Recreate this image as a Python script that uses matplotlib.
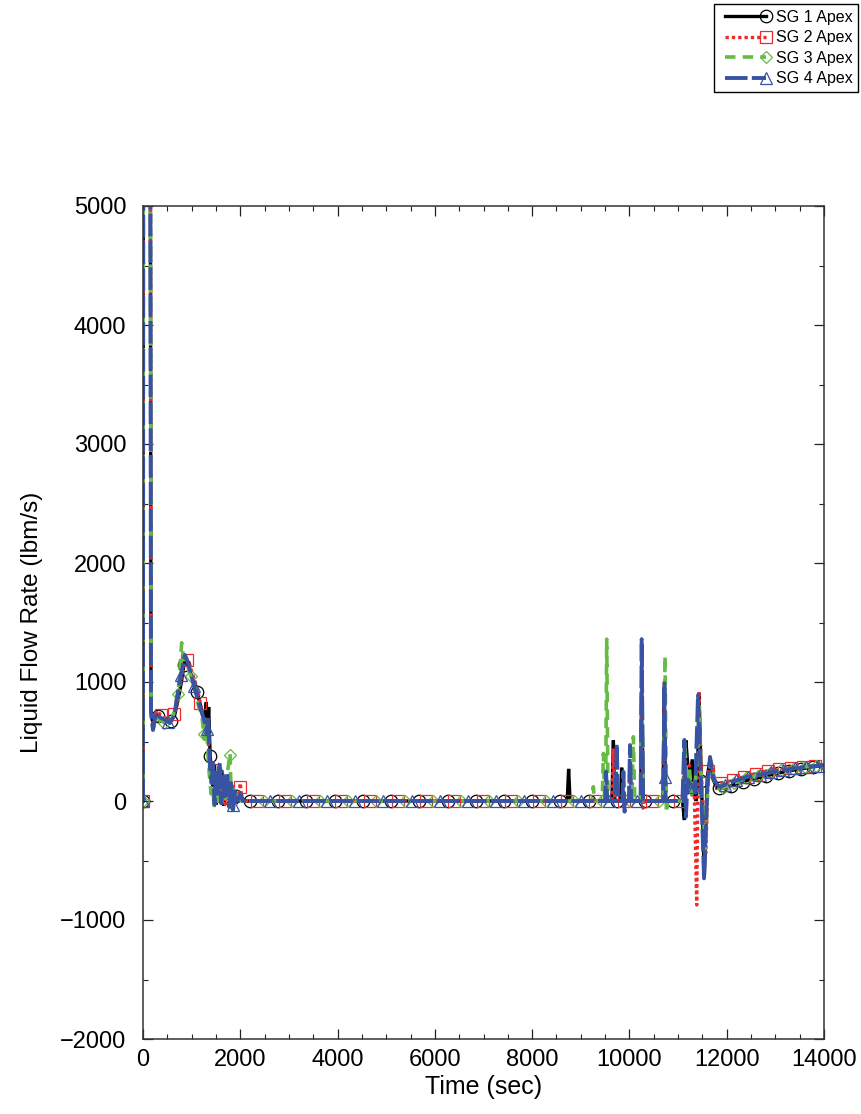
import numpy as np
import matplotlib
matplotlib.use("Agg")
import matplotlib.pyplot as plt
from matplotlib.lines import Line2D
from matplotlib.legend_handler import HandlerLine2D
from matplotlib.ticker import MultipleLocator

plt.rcParams['font.family'] = ['Liberation Sans', 'DejaVu Sans']

# (time s, liquid flow lbm/s)
sg1 = [(0, 0), (10, 9000), (140, 9000), (165, 760), (205, 640), (270, 730), (360, 690), (460, 670),
       (555, 665), (650, 720), (720, 850), (790, 1000), (860, 1200), (930, 1130), (1000, 1050),
       (1070, 980), (1140, 870), (1210, 760), (1270, 650), (1300, 830), (1330, 560), (1350, 790),
       (1380, 380), (1410, 260), (1440, 120), (1470, 300), (1500, -30), (1540, 180), (1580, 40),
       (1620, 260), (1660, -40), (1700, 140), (1740, 10), (1790, 200), (1840, -20), (1890, 90),
       (1950, 0), (2010, 30), (2100, 0),
       (8720, 0), (8750, 270), (8780, 0), (9640, 0), (9670, 510), (9700, 0), (9820, 0), (9840, 280),
       (9870, 0), (10230, 0), (10255, 1100), (10280, 0), (10690, 0), (10715, 950), (10740, 0),
       (11090, 0), (11130, -160), (11160, 510), (11200, 300), (11240, 120), (11290, 350), (11330, 80),
       (11370, 0), (11400, 200), (11430, 910), (11470, 300), (11540, -640), (11600, 200), (11660, 360),
       (11720, 180), (11800, 110), (11900, 110), (12100, 130), (12400, 170), (12700, 200), (13000, 230),
       (13300, 255), (13600, 275), (13900, 295), (14000, 300)]

sg2 = [(0, 0), (10, 9000), (140, 9000), (170, 740), (210, 650), (280, 760), (370, 720), (470, 690),
       (560, 680), (650, 740), (720, 870), (800, 1050), (870, 1220), (940, 1160), (1010, 1080),
       (1080, 990), (1150, 880), (1220, 740), (1260, 690), (1290, 600), (1320, 680), (1350, 420),
       (1380, 300), (1410, 180), (1440, 340), (1470, 100), (1500, 240), (1530, -20), (1570, 200),
       (1610, 60), (1650, 220), (1690, -30), (1730, 120), (1770, 20), (1810, 160), (1860, -10),
       (1910, 60), (1960, 20), (2000, 150), (2040, 0), (2120, 0),
       (9640, 0), (9670, 430), (9700, 0), (9980, 0), (10010, 300), (10040, 0), (10230, 0),
       (10255, 1200), (10280, -60), (10310, 0), (10690, 0), (10718, 1000), (10745, 0), (11090, 0),
       (11140, 450), (11180, 100), (11230, 300), (11280, 50), (11330, 150), (11383, -874),
       (11430, 919), (11480, 200), (11570, -437), (11620, 250), (11680, 330), (11760, 160),
       (11850, 150), (12100, 170), (12400, 210), (12700, 240), (13000, 260), (13300, 280),
       (13600, 290), (13900, 300), (14000, 300)]

sg3 = [(0, 0), (10, 9000), (140, 9000), (168, 720), (205, 600), (270, 700), (360, 680), (460, 650),
       (555, 650), (650, 760), (730, 950), (795, 1330), (850, 1150), (920, 1120), (1000, 1030),
       (1070, 950), (1140, 800), (1210, 720), (1260, 520), (1300, 680), (1340, 350), (1370, 200),
       (1400, 60), (1430, 260), (1460, -60), (1500, 150), (1540, 0), (1580, 300), (1620, -50),
       (1660, 180), (1700, 20), (1740, 250), (1789, 400), (1820, -60), (1860, 100), (1900, 0),
       (1950, 50), (2020, 0), (2100, 0),
       (9230, 0), (9258, 120), (9280, 0), (9440, 0), (9465, 400), (9490, 0), (9510, 0), (9533, 1360),
       (9560, 0), (10050, 0), (10081, 540), (10110, 0), (10230, 0), (10255, 1000), (10280, 0),
       (10700, 0), (10732, 1218), (10760, -100), (10790, 0), (11090, 0), (11140, 500), (11180, 150),
       (11230, 280), (11280, 60), (11330, 100), (11390, 300), (11430, 800), (11470, 250),
       (11560, -400), (11620, 200), (11680, 330), (11760, 140), (11850, 100), (12100, 140),
       (12400, 190), (12700, 220), (13000, 250), (13300, 270), (13600, 285), (13900, 300), (14000, 300)]

sg4 = [(0, 0), (10, 9000), (140, 9000), (164, 750), (205, 597), (267, 740), (360, 700), (460, 680),
       (555, 655), (644, 720), (692, 850), (760, 1017), (863, 1227), (930, 1150), (966, 1100),
       (1069, 933), (1172, 790), (1275, 655), (1310, 560), (1340, 700), (1377, 286), (1410, 150),
       (1440, 320), (1470, -30), (1500, 250), (1530, 60), (1560, 280), (1583, 320), (1610, -20),
       (1650, 200), (1690, 40), (1730, 240), (1770, -50), (1810, 150), (1850, -76), (1890, 80),
       (1940, 0), (2000, 60), (2050, 0), (2130, 0),
       (9500, 0), (9520, 246), (9545, 0), (9715, 0), (9739, 480), (9765, 0), (9855, 0), (9876, 246),
       (9900, -90), (9925, 0), (9990, 0), (10012, 470), (10035, 0), (10230, 0), (10252, 1360),
       (10280, 0), (10695, 0), (10720, 990), (10745, 0), (11090, 0), (11130, 513), (11160, -134),
       (11200, 180), (11250, 120), (11300, 150), (11350, 70), (11410, 890), (11470, 150),
       (11534, -650), (11600, 100), (11657, 370), (11720, 200), (11800, 140), (11862, 120),
       (12100, 160), (12400, 200), (12750, 225), (13000, 250), (13300, 270), (13600, 285),
       (13980, 300), (14000, 300)]

labels = ["SG 1 Apex", "SG 2 Apex", "SG 3 Apex", "SG 4 Apex"]
colors = ["#000000", "#ee2a2a", "#66bb44", "#3953a4"]
markers = ["o", "s", "D", "^"]
msizes = [9, 8, 6.5, 8.5]
lws = [2.4, 2.4, 2.6, 2.8]
dashes = [None, (1.0, 0.9), (2.9, 2.0), (5.8, 1.1)]
mark_off = [0, 70, 140, 210]


class EndMarker(HandlerLine2D):
    # marker only at the right end of the legend line
    def create_artists(self, *args, **kw):
        arts = super().create_artists(*args, **kw)
        for a in arts:
            n = len(a.get_xdata())
            a.set_markevery([n - 1])
        return arts


fig = plt.figure(figsize=(8.61, 11.14), dpi=100)
ax = fig.add_axes([143 / 861, 1 - 1039 / 1114, 681 / 861, 833 / 1114])

handles = []
for data, lab, c, m, ms, lw, d, off in zip([sg1, sg2, sg3, sg4], labels, colors, markers,
                                           msizes, lws, dashes, mark_off):
    t, v = np.array(data, dtype=float).T
    line, = ax.plot(t, v, color=c, lw=lw, solid_joinstyle='miter')
    if d is not None:
        line.set_dashes(d)
    # open symbols sitting on the curve
    mt = np.concatenate([[0], np.arange(300 + off, 2000, 270),
                         np.arange(2200 + 2 * off, 11700, 580),
                         np.arange(11850 + off / 2, 14000, 240)])
    ax.plot(mt, np.interp(mt, t, v), ls='none', marker=m, ms=ms, mfc='none',
            mec=c, mew=0.9)
    h = Line2D([0, 1], [0, 0], color=c, lw=lw, marker=m, ms=ms, mfc='none', mec=c, mew=0.9)
    if d is not None:
        h.set_dashes(d)
    handles.append(h)

ax.set_xlim(0, 14000)
ax.set_ylim(-2000, 5000)
ax.xaxis.set_major_locator(MultipleLocator(2000))
ax.xaxis.set_minor_locator(MultipleLocator(500))
ax.yaxis.set_major_locator(MultipleLocator(1000))
ax.yaxis.set_minor_locator(MultipleLocator(500))
ax.tick_params(which='both', direction='in', top=True, right=True, colors='#222222',
               labelcolor='black')
ax.tick_params(which='major', length=7, width=0.9, labelsize=17)
ax.tick_params(which='minor', length=3.6, width=0.8)
ax.tick_params(axis='x', pad=7)
ax.tick_params(axis='y', pad=12)
for s in ax.spines.values():
    s.set_color('#333333')
    s.set_linewidth(1.1)

ax.set_xlabel("Time (sec)", fontsize=18, labelpad=3)
ax.set_ylabel("Liquid Flow Rate (lbm/s)", fontsize=17.5, labelpad=12)

leg = fig.legend(handles, labels, loc='upper right', bbox_to_anchor=(858 / 861, 1 - 4 / 1114),
                 fontsize=11.5, numpoints=2, handlelength=3.2, handletextpad=0.3,
                 labelspacing=0.35, borderpad=0.35, borderaxespad=0, fancybox=False,
                 framealpha=1, edgecolor='black', handler_map={Line2D: EndMarker()})
leg.get_frame().set_linewidth(1.0)

fig.savefig("out.png", dpi=100)
